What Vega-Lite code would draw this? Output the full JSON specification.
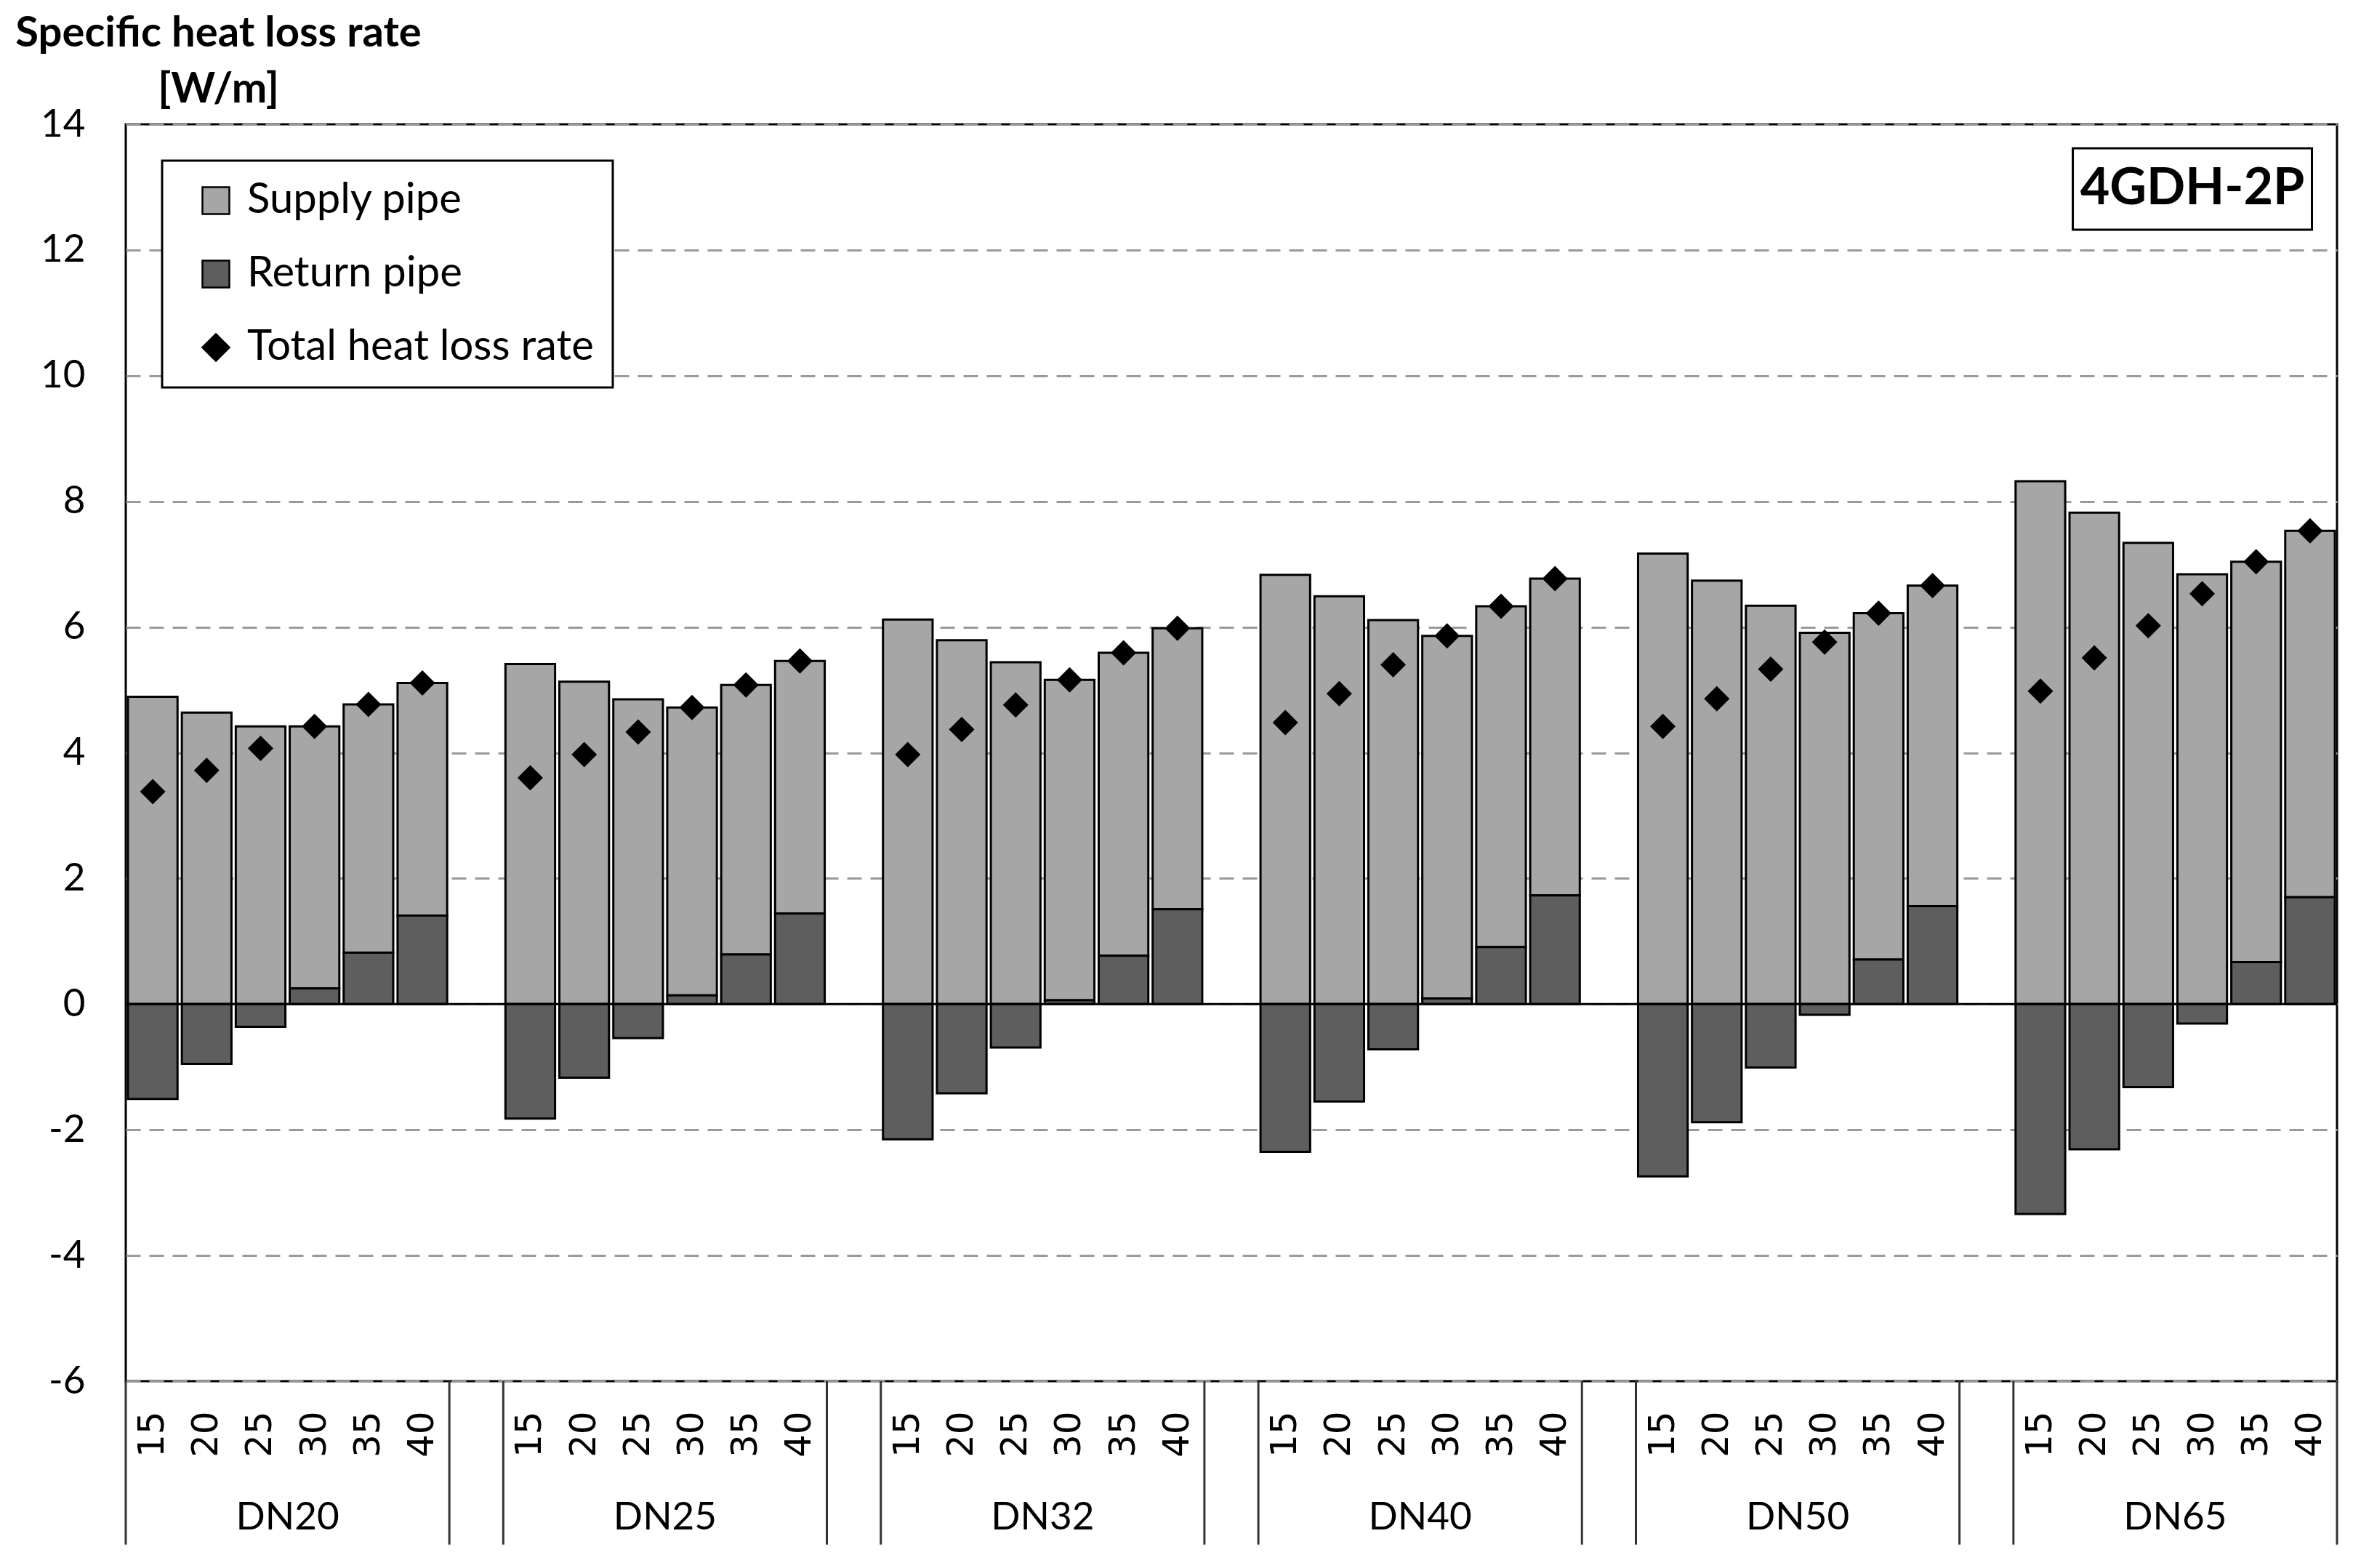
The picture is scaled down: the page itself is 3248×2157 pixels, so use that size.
{
  "$schema": "https://vega.github.io/schema/vega-lite/v6.json",
  "width": 3042,
  "height": 1729,
  "autosize": "none",
  "padding": {"left": 173, "top": 171, "right": 33, "bottom": 257},
  "background": "white",
  "config": {
    "view": {"stroke": "black", "strokeWidth": 3},
    "font": "Lato"
  },
  "data": {
    "values": [
      {"dn": "DN20", "t": 15, "supply": 4.89, "ret": -1.51, "total": 3.38},
      {"dn": "DN20", "t": 20, "supply": 4.64, "ret": -0.95, "total": 3.72},
      {"dn": "DN20", "t": 25, "supply": 4.42, "ret": -0.36, "total": 4.07},
      {"dn": "DN20", "t": 30, "supply": 4.17, "ret": 0.25, "total": 4.42},
      {"dn": "DN20", "t": 35, "supply": 3.95, "ret": 0.82, "total": 4.77},
      {"dn": "DN20", "t": 40, "supply": 3.70, "ret": 1.41, "total": 5.11},
      {"dn": "DN25", "t": 15, "supply": 5.41, "ret": -1.82, "total": 3.60},
      {"dn": "DN25", "t": 20, "supply": 5.13, "ret": -1.17, "total": 3.97},
      {"dn": "DN25", "t": 25, "supply": 4.85, "ret": -0.54, "total": 4.33},
      {"dn": "DN25", "t": 30, "supply": 4.58, "ret": 0.14, "total": 4.72},
      {"dn": "DN25", "t": 35, "supply": 4.29, "ret": 0.79, "total": 5.08},
      {"dn": "DN25", "t": 40, "supply": 4.02, "ret": 1.44, "total": 5.46},
      {"dn": "DN32", "t": 15, "supply": 6.12, "ret": -2.15, "total": 3.97},
      {"dn": "DN32", "t": 20, "supply": 5.79, "ret": -1.42, "total": 4.37},
      {"dn": "DN32", "t": 25, "supply": 5.44, "ret": -0.69, "total": 4.76},
      {"dn": "DN32", "t": 30, "supply": 5.10, "ret": 0.06, "total": 5.16},
      {"dn": "DN32", "t": 35, "supply": 4.82, "ret": 0.77, "total": 5.59},
      {"dn": "DN32", "t": 40, "supply": 4.47, "ret": 1.51, "total": 5.98},
      {"dn": "DN40", "t": 15, "supply": 6.83, "ret": -2.35, "total": 4.48},
      {"dn": "DN40", "t": 20, "supply": 6.49, "ret": -1.55, "total": 4.94},
      {"dn": "DN40", "t": 25, "supply": 6.11, "ret": -0.72, "total": 5.40},
      {"dn": "DN40", "t": 30, "supply": 5.77, "ret": 0.09, "total": 5.86},
      {"dn": "DN40", "t": 35, "supply": 5.42, "ret": 0.91, "total": 6.33},
      {"dn": "DN40", "t": 40, "supply": 5.04, "ret": 1.73, "total": 6.77},
      {"dn": "DN50", "t": 15, "supply": 7.17, "ret": -2.74, "total": 4.42},
      {"dn": "DN50", "t": 20, "supply": 6.74, "ret": -1.88, "total": 4.86},
      {"dn": "DN50", "t": 25, "supply": 6.34, "ret": -1.01, "total": 5.33},
      {"dn": "DN50", "t": 30, "supply": 5.91, "ret": -0.17, "total": 5.76},
      {"dn": "DN50", "t": 35, "supply": 5.51, "ret": 0.71, "total": 6.22},
      {"dn": "DN50", "t": 40, "supply": 5.10, "ret": 1.56, "total": 6.66},
      {"dn": "DN65", "t": 15, "supply": 8.32, "ret": -3.34, "total": 4.98},
      {"dn": "DN65", "t": 20, "supply": 7.82, "ret": -2.31, "total": 5.51},
      {"dn": "DN65", "t": 25, "supply": 7.34, "ret": -1.32, "total": 6.02},
      {"dn": "DN65", "t": 30, "supply": 6.84, "ret": -0.31, "total": 6.53},
      {"dn": "DN65", "t": 35, "supply": 6.37, "ret": 0.67, "total": 7.04},
      {"dn": "DN65", "t": 40, "supply": 5.83, "ret": 1.70, "total": 7.53}
    ]
  },
  "layer": [
    {
      "transform": [{"fold": ["supply", "ret"], "as": ["series", "value"]}],
      "mark": {"type": "bar", "stroke": "black", "strokeWidth": 3},
      "encoding": {
        "x": {
          "field": "dn", "type": "nominal",
          "scale": {"paddingInner": 0.1429, "paddingOuter": 0},
          "axis": {
            "title": null, "labelAngle": 0, "labelFont": "Lato", "labelFontSize": 53,
            "labelColor": "black", "ticks": false, "domain": false, "grid": false,
            "labelPadding": 187, "labelBaseline": "middle"
          }
        },
        "xOffset": {"field": "t", "type": "ordinal", "scale": {"paddingInner": 0.08, "paddingOuter": 0.04}},
        "y": {
          "field": "value", "type": "quantitative", "stack": "zero",
          "scale": {"domain": [-6, 14], "nice": false, "zero": false},
          "axis": {
            "values": [-6, -4, -2, 0, 2, 4, 6, 8, 10, 12, 14],
            "labelExpr": "'' + datum.value",
            "labelFont": "Lato", "labelFontSize": 53, "labelColor": "black",
            "labelFlush": false, "labelOverlap": false,
            "ticks": false, "domain": false, "labelPadding": 56,
            "grid": true, "gridDash": [20, 12], "gridColor": "#9a9a9a", "gridWidth": 3,
            "title": ["Specific heat loss rate", "[W/m]"],
            "titleAngle": 0, "titleAlign": "center", "titleBaseline": "alphabetic",
            "titleX": 127, "titleY": -108, "titleFont": "Lato", "titleFontWeight": "bold",
            "titleFontSize": 58, "titleLineHeight": 77, "titleColor": "black"
          }
        },
        "order": {"field": "series", "type": "nominal", "sort": "ascending"},
        "fill": {
          "field": "series", "type": "nominal",
          "scale": {"domain": ["supply", "ret", "total"], "range": ["#a6a6a6", "#5e5e5e", "#000000"]},
          "legend": {
            "title": null, "orient": "none", "legendX": 50, "legendY": 50, "direction": "vertical",
            "labelExpr": "datum.value == 'supply' ? 'Supply pipe' : datum.value == 'ret' ? 'Return pipe' : 'Total heat loss rate'",
            "labelFont": "Lato", "labelFontSize": 58, "labelColor": "black", "labelLimit": 1000,
            "symbolType": "square", "symbolSize": 1369, "symbolStrokeColor": "black", "symbolStrokeWidth": 2.5,
            "symbolOffset": 19, "labelOffset": 14, "padding": 26, "rowPadding": 43,
            "strokeColor": "black", "fillColor": "white",
            "encode": {
              "symbols": {"update": {"shape": {"signal": "datum.value == 'total' ? 'diamond' : 'square'"}, "opacity": {"value": 1}}},
              "legend": {"update": {"strokeWidth": {"value": 3}}}
            }
          }
        }
      }
    },
    {
      "data": {"values": [{}]},
      "mark": {"type": "rule", "stroke": "black", "strokeWidth": 3},
      "encoding": {"y": {"datum": 0}}
    },
    {
      "mark": {"type": "point", "shape": "diamond", "filled": true, "size": 1225, "opacity": 1},
      "encoding": {
        "x": {"field": "dn", "type": "nominal"},
        "xOffset": {"field": "t", "type": "ordinal"},
        "y": {"field": "total", "type": "quantitative"},
        "fill": {"datum": "total"}
      }
    },
    {
      "mark": {"type": "text", "angle": 270, "align": "right", "baseline": "middle", "font": "DejaVu Sans", "fontSize": 50, "fill": "black"},
      "encoding": {
        "x": {"field": "dn", "type": "nominal"},
        "xOffset": {"field": "t", "type": "ordinal"},
        "y": {"datum": -6.48},
        "text": {"field": "t", "type": "ordinal"}
      }
    },
    {
      "transform": [{"filter": "datum.t == 15"}],
      "mark": {"type": "rule", "stroke": "#333333", "strokeWidth": 3},
      "encoding": {
        "x": {"field": "dn", "type": "nominal", "bandPosition": 0},
        "y": {"datum": -6},
        "y2": {"datum": -8.6}
      }
    },
    {
      "transform": [{"filter": "datum.t == 40"}],
      "mark": {"type": "rule", "stroke": "#333333", "strokeWidth": 3},
      "encoding": {
        "x": {"field": "dn", "type": "nominal", "bandPosition": 1},
        "y": {"datum": -6},
        "y2": {"datum": -8.6}
      }
    },
    {
      "data": {"values": [{}]},
      "mark": {"type": "point", "shape": "M-1,-0.34L1,-0.34L1,0.34L-1,0.34Z", "size": 108241, "filled": true, "fill": "white", "stroke": "black", "strokeWidth": 3, "opacity": 1},
      "encoding": {
        "x": {"datum": "DN65", "bandPosition": 0.553},
        "y": {"datum": 12.97}
      }
    },
    {
      "data": {"values": [{}]},
      "mark": {"type": "text", "text": "4GDH-2P", "font": "Lato", "fontWeight": "bold", "fontSize": 70, "align": "center", "baseline": "middle", "fill": "black"},
      "encoding": {
        "x": {"datum": "DN65", "bandPosition": 0.553},
        "y": {"datum": 12.97}
      }
    }
  ]
}
